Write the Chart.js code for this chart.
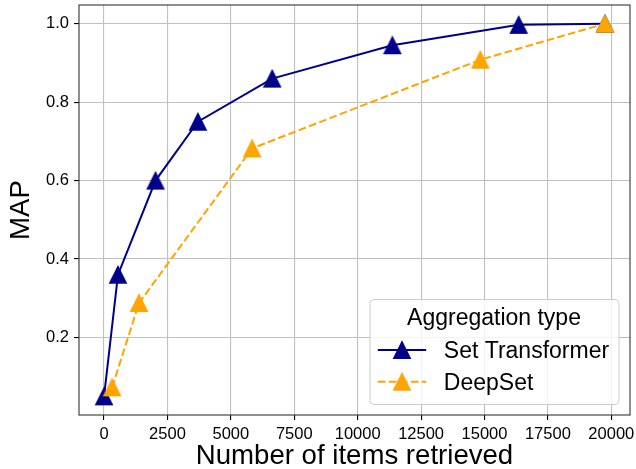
<!DOCTYPE html>
<html>
<head>
<meta charset="utf-8">
<script src="https://cdn.jsdelivr.net/npm/chart.js@4/dist/chart.umd.min.js"></script>
<style>
  html, body { margin: 0; padding: 0; background: #fff; }
  #chart { display: block; }
</style>
</head>
<body>
<canvas id="chart" width="636" height="469"></canvas>
<script>
// Data
const stItems = [0, 550, 2030, 3700, 6630, 11370, 16350, 19750];
const stMap   = [0.05, 0.36, 0.60, 0.75, 0.86, 0.945, 0.997, 1.0];
const dsItems = [320, 1380, 5840, 14840, 19750];
const dsMap   = [0.073, 0.288, 0.682, 0.908, 1.0];

const seriesNames = ['Set Transformer', 'DeepSet'];
const legendTitle = 'Aggregation type';
const xTitle = 'Number of items retrieved';
const yTitle = 'MAP';

const xTicks = [0, 2500, 5000, 7500, 10000, 12500, 15000, 17500, 20000];
const yTicks = [0.2, 0.4, 0.6, 0.8, 1.0];
const yTickLabels = ['0.2', '0.4', '0.6', '0.8', '1.0'];

// axis limits with matplotlib-style 5% margins
const xMin = -987.5, xMax = 20737.5;
const yMin = 0.0025, yMax = 1.0475;

const FONT = '"Liberation Sans", Arial, sans-serif';
const BLUE = '#00008b';
const ORANGE = '#ffa500';
const DASH = [7.7, 3.3];

// matplotlib '^' marker: width == height, centred on its bounding box
function triangleMarker(color) {
    const c = document.createElement('canvas');
    c.width = 20; c.height = 20;
    const g = c.getContext('2d');
    const h = 8.4;
    g.beginPath();
    g.moveTo(10, 10 - h);
    g.lineTo(10 - h, 10 + h);
    g.lineTo(10 + h, 10 + h);
    g.closePath();
    g.fillStyle = color;
    g.fill();
    g.lineWidth = 1.2;
    g.strokeStyle = color;
    g.stroke();
    return c;
}
const blueMarker = triangleMarker(BLUE);
const orangeMarker = triangleMarker(ORANGE);

const toPoints = (xs, ys) => xs.map((x, i) => ({ x: x, y: ys[i] }));

// full box around the axes
const framePlugin = {
    id: 'frame',
    afterDatasetsDraw(chart) {
        const { ctx, chartArea: a } = chart;
        ctx.save();
        ctx.strokeStyle = '#333';
        ctx.lineWidth = 1.1;
        ctx.strokeRect(a.left, a.top, a.right - a.left, a.bottom - a.top);
        ctx.restore();
    }
};

// matplotlib-like legend in the lower right corner
const legendPlugin = {
    id: 'mplLegend',
    afterDraw(chart) {
        const { ctx, chartArea: a } = chart;
        const w = 249, h = 105;
        const bx = a.right - 11.5 - w;
        const by = a.bottom - 11 - h;
        ctx.save();
        ctx.beginPath();
        ctx.roundRect(bx + 0.5, by + 0.5, w, h, 4);
        ctx.fillStyle = 'rgba(255,255,255,0.8)';
        ctx.fill();
        ctx.strokeStyle = '#cccccc';
        ctx.lineWidth = 1;
        ctx.stroke();

        ctx.fillStyle = '#000';
        ctx.font = '23px ' + FONT;
        ctx.textAlign = 'center';
        ctx.textBaseline = 'alphabetic';
        ctx.fillText(legendTitle, bx + w / 2, by + 25.5);

        const rows = [
            { y: by + 51, color: BLUE, dash: [], marker: blueMarker },
            { y: by + 82.7, color: ORANGE, dash: DASH, marker: orangeMarker }
        ];
        rows.forEach((r, i) => {
            ctx.beginPath();
            ctx.setLineDash(r.dash);
            ctx.strokeStyle = r.color;
            ctx.lineWidth = 2;
            ctx.moveTo(bx + 8.3, r.y);
            ctx.lineTo(bx + 56.7, r.y);
            ctx.stroke();
            ctx.setLineDash([]);
            ctx.drawImage(r.marker, bx + 32.5 - 10, r.y - 10);
            ctx.textAlign = 'left';
            ctx.fillStyle = '#000';
            ctx.fillText(seriesNames[i], bx + 74.3, r.y + 8);
        });
        ctx.restore();
    }
};

const gridOpts = {
    color: '#c0c0c0',
    lineWidth: 1.1,
    tickColor: '#000',
    tickWidth: 1.1,
    tickLength: 5
};

new Chart(document.getElementById('chart'), {
    type: 'line',
    data: {
        datasets: [
            {
                label: seriesNames[0],
                data: toPoints(stItems, stMap),
                borderColor: BLUE,
                backgroundColor: BLUE,
                borderWidth: 2,
                pointStyle: blueMarker,
                pointRadius: 9,
                tension: 0,
                order: 1
            },
            {
                label: seriesNames[1],
                data: toPoints(dsItems, dsMap),
                borderColor: ORANGE,
                backgroundColor: ORANGE,
                borderWidth: 2,
                borderDash: DASH,
                pointStyle: orangeMarker,
                pointRadius: 9,
                tension: 0,
                order: 0
            }
        ]
    },
    options: {
        responsive: false,
        animation: false,
        devicePixelRatio: 1,
        layout: { autoPadding: false, padding: { top: 5, right: 6, left: 0, bottom: 0 } },
        plugins: {
            legend: { display: false },
            tooltip: { enabled: false }
        },
        scales: {
            x: {
                type: 'linear',
                min: xMin,
                max: xMax,
                afterBuildTicks: s => { s.ticks = xTicks.map(v => ({ value: v })); },
                afterFit: s => { s.height = 54; s.paddingLeft = 0; s.paddingRight = 0; },
                grid: gridOpts,
                border: { display: false },
                ticks: {
                    autoSkip: false,
                    maxRotation: 0,
                    padding: 5,
                    color: '#000',
                    font: { family: FONT, size: 16.5 },
                    callback: v => String(v)
                },
                title: {
                    display: true,
                    text: xTitle,
                    color: '#000',
                    padding: 0,
                    font: { family: FONT, size: 27.6, lineHeight: 0.9 }
                }
            },
            y: {
                type: 'linear',
                min: yMin,
                max: yMax,
                afterBuildTicks: s => { s.ticks = yTicks.map(v => ({ value: v })); },
                afterFit: s => { s.width = 79; s.paddingTop = 0; s.paddingBottom = 0; },
                grid: gridOpts,
                border: { display: false },
                ticks: {
                    autoSkip: false,
                    padding: 5,
                    color: '#000',
                    font: { family: FONT, size: 16.5 },
                    callback: (v, i) => yTickLabels[i]
                },
                title: {
                    display: true,
                    text: yTitle,
                    color: '#000',
                    padding: { top: 8, bottom: 0 },
                    font: { family: FONT, size: 27.6, lineHeight: 1 }
                }
            }
        }
    },
    plugins: [framePlugin, legendPlugin]
});
</script>
</body>
</html>
